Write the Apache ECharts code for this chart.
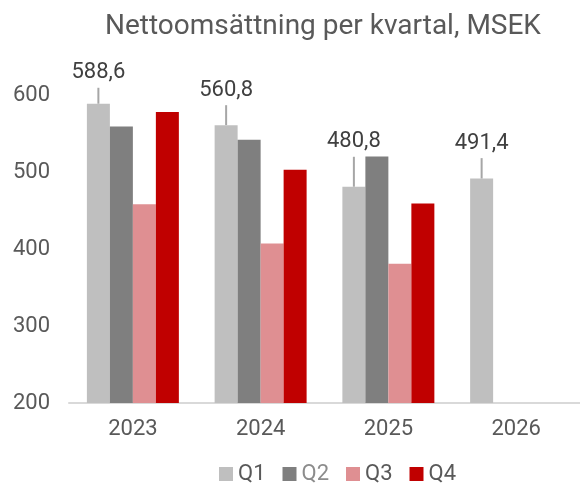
<!DOCTYPE html>
<html>
<head>
<meta charset="utf-8">
<script src="https://cdn.jsdelivr.net/npm/echarts@6/dist/echarts.min.js"></script>
<style>
  html, body { margin: 0; padding: 0; background: #fff; }
  #chart { width: 580px; height: 483px; }
</style>
</head>
<body>
<div id="chart"></div>
<script>
const years = ["2023", "2024", "2025", "2026"];
const quarters = ["Q1", "Q2", "Q3", "Q4"];
const q1 = [588.6, 560.8, 480.8, 491.4];
const q2 = [559, 542, 520, null];
const q3 = [458, 407, 381, null];
const q4 = [578, 503, 459, null];
const yTicks = { min: 200, max: 600, step: 100 };

const colors = ["#BFBFBF", "#7F7F7F", "#DF8F92", "#C00000"];
const textColor = "#595959";
const font = "Roboto";
// how far each Q1 label is pulled above its bar
const labelLift = [11, 15, 25, 15.5];

const chart = echarts.init(document.getElementById("chart"), null, { renderer: "canvas" });

const barSeries = [q1, q2, q3, q4].map((values, i) => ({
  name: quarters[i],
  type: "bar",
  data: values,
  barGap: "0%",
  barCategoryGap: "28%",
  itemStyle: { color: colors[i] },
  emphasis: { disabled: true },
}));

Object.assign(barSeries[0], {
  label: {
    show: true,
    position: "top",
    distance: 5,
    color: "#404040",
    fontFamily: font,
    fontSize: 22,
    lineHeight: 30,
    formatter: (p) => p.value.toFixed(1).replace(".", ","),
  },
  labelLayout: (p) => ({ dy: -labelLift[p.dataIndex] }),
  labelLine: {
    show: true,
    length2: 0,
    lineStyle: { color: "#A6A6A6", width: 2 },
  },
});

chart.setOption({
  animation: false,
  color: colors,
  title: {
    text: "Nettoomsättning per kvartal, MSEK",
    left: 100,
    top: 8,
    textStyle: { color: textColor, fontFamily: font, fontSize: 28, fontWeight: "normal" },
  },
  legend: {
    top: 458,
    left: 214,
    itemWidth: 14,
    itemHeight: 14,
    itemGap: 17,
    icon: "rect",
    textStyle: { color: textColor, fontFamily: font, fontSize: 22 },
    data: quarters.map((q, i) => (i === 1 ? { name: q, textStyle: { color: "#8C8C8C" } } : { name: q })),
  },
  grid: { left: 69, right: -10, top: 95, bottom: 80 },
  xAxis: {
    type: "category",
    data: years,
    axisLine: { lineStyle: { color: "#D9D9D9", width: 2 } },
    axisTick: { show: false },
    axisLabel: { color: textColor, fontFamily: font, fontSize: 22, margin: 15 },
  },
  yAxis: {
    type: "value",
    min: yTicks.min,
    max: yTicks.max,
    interval: yTicks.step,
    axisLine: { show: false },
    axisTick: { show: false },
    splitLine: { show: false },
    axisLabel: { color: textColor, fontFamily: font, fontSize: 22, margin: 19 },
  },
  series: barSeries,
});
</script>
</body>
</html>
